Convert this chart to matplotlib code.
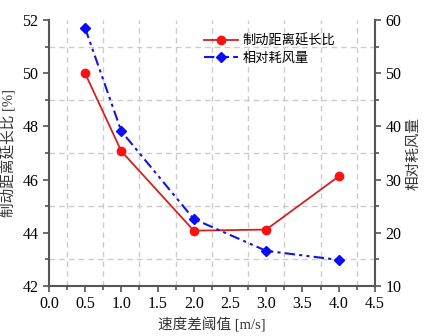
import matplotlib
matplotlib.use("Agg")
import matplotlib.pyplot as plt
from matplotlib.ticker import MultipleLocator

plt.rcParams['font.family'] = ['Liberation Serif', 'Noto Sans CJK SC']

x = [0.5, 1.0, 2.0, 3.0, 4.0]
brake_ratio = [50.0, 47.07, 44.08, 44.12, 46.12]
wind_use = [58.5, 39.1, 22.6, 16.6, 14.9]

label_red = "制动距离延长比"
label_blue = "相对耗风量"
xlabel = "速度差阈值 [m/s]"
ylabel_left = "制动距离延长比 [%]"
ylabel_right = "相对耗风量"

fig = plt.figure(figsize=(4.25, 3.36), dpi=100)
ax = fig.add_axes([0.115, 0.149, 0.767, 0.791])
ax2 = ax.twinx()

spine_c = '#555555'
blue = '#1515e0'

l1, = ax.plot(x, brake_ratio, color='#d42020', lw=1.3, marker='o', ms=6,
              mfc='#ff1010', mec='#ff1010', label=label_red)
l2, = ax2.plot(x, wind_use, color=blue, lw=1.5, ls=(0, (5, 2, 1.5, 2, 1.5, 2)),
               marker='D', ms=5, mfc='#0a0aff', mec='#0a0aff', label=label_blue)

ax.set_xlim(0, 4.5)
ax.set_ylim(42, 52)
ax2.set_ylim(10, 60)
ax.xaxis.set_major_locator(MultipleLocator(0.5))
ax.xaxis.set_minor_locator(MultipleLocator(0.25))
ax.yaxis.set_major_locator(MultipleLocator(2))
ax.yaxis.set_minor_locator(MultipleLocator(1))
ax2.yaxis.set_major_locator(MultipleLocator(10))
ax2.yaxis.set_minor_locator(MultipleLocator(5))

# grid only at minor positions (odd) like the reference
for xv in [0.25, 0.75, 1.25, 1.75, 2.25, 2.75, 3.25, 3.75, 4.25]:
    ax.axvline(xv, color='#cccccc', ls=(0, (4, 3)), lw=1, zorder=0)
for yv in [43, 45, 47, 49, 51]:
    ax.axhline(yv, color='#cccccc', ls=(0, (4, 3)), lw=1, zorder=0)

for a in (ax, ax2):
    a.spines['top'].set_visible(False)
    for s in ('left', 'right', 'bottom'):
        a.spines[s].set_color(spine_c)
        a.spines[s].set_linewidth(1.5)
    a.tick_params(which='both', direction='out', color=spine_c, width=1.2,
                  labelsize=11.5, labelcolor='black')
    a.tick_params(which='major', length=4)
    a.tick_params(which='minor', length=3)
ax.spines['right'].set_visible(False)
ax2.spines['left'].set_visible(False)
ax2.spines['bottom'].set_visible(False)

ax.set_xlabel(xlabel, fontsize=10.5, color='#333333', labelpad=4)
ax.set_ylabel(ylabel_left, fontsize=10.5, color='#333333', labelpad=4)
ax2.set_ylabel(ylabel_right, fontsize=10.5, color='#333333', rotation=90, labelpad=4)

ax2.legend(handles=[l1, l2], loc='upper left', bbox_to_anchor=(0.475, 0.948),
           frameon=False, fontsize=9.5, handlelength=2.6, handletextpad=0.35,
           labelspacing=0.4, borderaxespad=0, borderpad=0)

fig.savefig("out.png", dpi=100)
